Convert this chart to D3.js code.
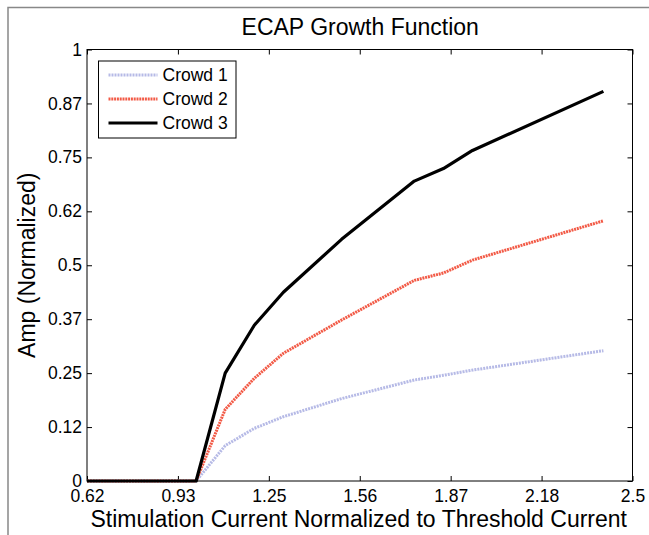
<!DOCTYPE html>
<html>
<head>
<meta charset="utf-8">
<script src="https://cdn.jsdelivr.net/npm/d3@7"></script>
<style>
  body { margin: 0; background: #fff; }
  svg { display: block; font-family: 'Liberation Sans', Arial, sans-serif; }
</style>
</head>
<body>
<svg id="chart" width="649" height="535"></svg>
<script>
// data
var xValues = [0.625, 1.0, 1.1, 1.2, 1.3, 1.5, 1.75, 1.85, 1.95, 2.4]
var crowd1 = [0, 0, 0.082, 0.122, 0.149, 0.191, 0.234, 0.245, 0.257, 0.302]
var crowd2 = [0, 0, 0.166, 0.238, 0.296, 0.373, 0.465, 0.482, 0.512, 0.603]
var crowd3 = [0, 0, 0.25, 0.361, 0.4375, 0.56, 0.695, 0.724, 0.766, 0.903]
var seriesNames = ['Crowd 1', 'Crowd 2', 'Crowd 3']
var xTicks = [0.625, 0.9375, 1.25, 1.5625, 1.875, 2.1875, 2.5]
var yTicks = [0, 0.125, 0.25, 0.375, 0.5, 0.625, 0.75, 0.875, 1]

var colors = ['#b6bae6', '#f25a46', '#000000']
var dashes = ['2,1', '2,0.8', null]

var svg = d3.select('#chart')
var margin = { left: 87, right: 649 - 632.5, top: 49.5, bottom: 535 - 481 }
var width = 649 - margin.left - margin.right
var height = 535 - margin.top - margin.bottom

// outer figure frame
svg.append('path')
  .attr('d', 'M8,535 V7.5 H649')
  .attr('fill', 'none')
  .attr('stroke', '#888')
  .attr('stroke-width', 1.5)

var x = d3.scaleLinear().domain([0.625, 2.5]).range([0, width])
var y = d3.scaleLinear().domain([0, 1]).range([height, 0])

// MATLAB style truncation of tick labels
var fmt = function (v) {
  var t = Math.floor(v * 100 + 1e-9) / 100
  return String(+t.toFixed(2))
}

var g = svg.append('g').attr('transform', 'translate(' + margin.left + ',' + margin.top + ')')

var tickLen = 5
g.append('g')
  .attr('transform', 'translate(0,' + height + ')')
  .call(d3.axisBottom(x).tickValues(xTicks).tickSize(-tickLen).tickPadding(9).tickFormat(fmt))
  .call(function (a) { a.select('.domain').remove() })
  .selectAll('text').attr('font-size', 17.5).attr('fill', '#000')

g.append('g')
  .call(d3.axisLeft(y).tickValues(yTicks).tickSize(-tickLen).tickPadding(5).tickFormat(fmt))
  .call(function (a) { a.select('.domain').remove() })
  .selectAll('text').attr('font-size', 17.5).attr('fill', '#000')

g.append('g')
  .call(d3.axisTop(x).tickValues(xTicks).tickSize(-tickLen).tickFormat(''))
  .call(function (a) { a.select('.domain').remove() })

g.append('g')
  .attr('transform', 'translate(' + width + ',0)')
  .call(d3.axisRight(y).tickValues(yTicks).tickSize(-tickLen).tickFormat(''))
  .call(function (a) { a.select('.domain').remove() })

g.selectAll('.tick line').attr('stroke', '#000')

// data lines
var line = d3.line()
  .x(function (d) { return x(d[0]) })
  .y(function (d) { return y(d[1]) })

var allSeries = [crowd1, crowd2, crowd3]
allSeries.forEach(function (vals, i) {
  g.append('path')
    .datum(xValues.map(function (xv, j) { return [xv, vals[j]] }))
    .attr('fill', 'none')
    .attr('stroke', colors[i])
    .attr('stroke-width', i === 2 ? 3.2 : 3)
    .attr('stroke-dasharray', dashes[i])
    .attr('stroke-linejoin', 'round')
    .attr('d', line)
})

// axes box
g.append('rect')
  .attr('width', width)
  .attr('height', height)
  .attr('fill', 'none')
  .attr('stroke', '#000')
  .attr('stroke-width', 1)

// legend
var legend = g.append('g').attr('transform', 'translate(' + (98.5 - margin.left) + ',' + (61 - margin.top) + ')')
legend.append('rect')
  .attr('width', 137.5)
  .attr('height', 77)
  .attr('fill', '#fff')
  .attr('stroke', '#000')
seriesNames.forEach(function (name, i) {
  var ly = 14 + i * 24
  legend.append('line')
    .attr('x1', 10).attr('x2', 59)
    .attr('y1', ly).attr('y2', ly)
    .attr('stroke', colors[i])
    .attr('stroke-width', 3)
    .attr('stroke-dasharray', dashes[i])
  legend.append('text')
    .attr('x', 64)
    .attr('y', ly)
    .attr('dy', '0.35em')
    .attr('font-size', 17.5)
    .text(name)
})

// title and axis labels
svg.append('text')
  .attr('x', margin.left + width / 2 + 0.5)
  .attr('y', 35)
  .attr('text-anchor', 'middle')
  .attr('font-size', 23)
  .text('ECAP Growth Function')

svg.append('text')
  .attr('x', margin.left + width / 2 - 1)
  .attr('y', 527)
  .attr('text-anchor', 'middle')
  .attr('font-size', 23)
  .text('Stimulation Current Normalized to Threshold Current')

svg.append('text')
  .attr('transform', 'translate(35,' + (margin.top + height / 2) + ') rotate(-90)')
  .attr('text-anchor', 'middle')
  .attr('font-size', 23)
  .text('Amp (Normalized)')
</script>
</body>
</html>
